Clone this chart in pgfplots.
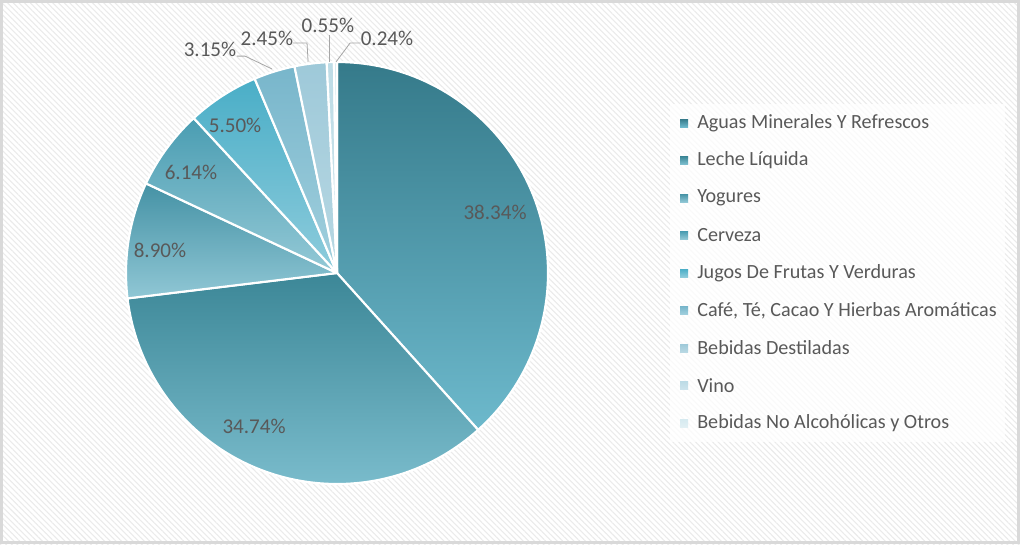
\documentclass[border=0pt]{standalone}
\usepackage{fontspec}
\setmainfont{Carlito}
\usepackage{pgfplots}
\pgfplotsset{compat=1.18}
\usepackage{pgfplotstable}
\usetikzlibrary{patterns.meta}
\definecolor{txt}{HTML}{595959}
\definecolor{lead}{HTML}{A6A6A6}
\definecolor{c1t}{HTML}{357A8A}\definecolor{c1b}{HTML}{6DB9CC}
\definecolor{c2t}{HTML}{3C8797}\definecolor{c2b}{HTML}{80C1D1}
\definecolor{c3t}{HTML}{4592A5}\definecolor{c3b}{HTML}{90C7D5}
\definecolor{c4t}{HTML}{4A9DB2}\definecolor{c4b}{HTML}{94C9D6}
\definecolor{c5t}{HTML}{4AAEC7}\definecolor{c5b}{HTML}{8ECCDC}
\definecolor{c6t}{HTML}{78B6CB}\definecolor{c6b}{HTML}{A2D0DE}
\definecolor{c7t}{HTML}{9EC9D9}\definecolor{c7b}{HTML}{B8D8E3}
\definecolor{c8t}{HTML}{BDDCE6}\definecolor{c8b}{HTML}{CDE4EC}
\definecolor{c9t}{HTML}{D6EAF0}\definecolor{c9b}{HTML}{E2F0F4}

\pgfplotstableread{
val   top bot
38.34 c1t c1b
34.74 c2t c2b
8.90  c3t c3b
6.14  c4t c4b
5.50  c5t c5b
3.15  c6t c6b
2.45  c7t c7b
0.55  c8t c8b
0.24  c9t c9b
}\data

\begin{document}
\begin{tikzpicture}[font=\fontsize{15.8}{19}\selectfont]
% background
\fill[white] (0,0) rectangle (765pt,-408pt);
\fill[pattern={Lines[angle=-45,distance=3pt,line width=0.8pt]}, pattern color=black!8] (0,0) rectangle (765pt,-408pt);
\begin{scope}[x=0.75pt,y=-0.75pt]
\draw[line width=2.25pt, color=black!15] (1.5,1.5) rectangle (1018.5,542.5);
\end{scope}

\begin{axis}[at={(252.75pt,-204.75pt)}, anchor=origin, scale only axis,
  width=316.5pt, height=316.5pt, xmin=-1, xmax=1, ymin=-1, ymax=1,
  hide axis, clip=false]
\def\cum{0}
\pgfplotsforeachungrouped \i in {0,...,8}{%
  \pgfplotstablegetelem{\i}{val}\of\data \let\v\pgfplotsretval
  \pgfplotstablegetelem{\i}{top}\of\data \let\ct\pgfplotsretval
  \pgfplotstablegetelem{\i}{bot}\of\data \let\cb\pgfplotsretval
  \pgfmathsetmacro\sa{90-3.6*\cum}%
  \pgfmathsetmacro\cum{\cum+\v}%
  \pgfmathsetmacro\ea{90-3.6*\cum}%
  \edef\cmd{\noexpand\path[top color=\ct, bottom color=\cb, draw=white, line width=1.6pt, line join=round]
    (axis cs:0,0) -- ++(\sa:158.25pt) arc[start angle=\sa, end angle=\ea, radius=158.25pt] -- cycle;}%
  \cmd
}
% leader lines
\draw[lead, line width=0.6pt] (axis cs:-0.474,1.028) -- (axis cs:-0.436,1.028) -- (axis cs:-0.308,0.967);
\draw[lead, line width=0.6pt] (axis cs:-0.209,1.090) -- (axis cs:-0.142,1.090) -- (axis cs:-0.137,1.0);
\draw[lead, line width=0.6pt] (axis cs:-0.038,1.128) -- (axis cs:-0.038,1.0);
\draw[lead, line width=0.6pt] (axis cs:0.112,1.090) -- (axis cs:0.062,1.090) -- (axis cs:-0.005,1.0);
% labels
\node[text=txt] at (axis cs:0.749,0.289) {38.34\%};
\node[text=txt] at (axis cs:-0.393,-0.725) {34.74\%};
\node[text=txt] at (axis cs:-0.839,0.109) {8.90\%};
\node[text=txt] at (axis cs:-0.692,0.479) {6.14\%};
\node[text=txt] at (axis cs:-0.483,0.701) {5.50\%};
\node[text=txt] at (axis cs:-0.602,1.062) {3.15\%};
\node[text=txt] at (axis cs:-0.332,1.114) {2.45\%};
\node[text=txt] at (axis cs:-0.043,1.175) {0.55\%};
\node[text=txt] at (axis cs:0.237,1.114) {0.24\%};
\end{axis}

% legend
\begin{scope}[x=0.75pt,y=-0.75pt]
\fill[white, fill opacity=0.75] (670,104) rectangle (1005,442);
\foreach \n [count=\k] in {{Aguas Minerales Y Refrescos},{Leche Líquida},{Yogures},{Cerveza},{Jugos De Frutas Y Verduras},{Café, Té, Cacao Y Hierbas Aromáticas},{Bebidas Destiladas},{Vino},{Bebidas No Alcohólicas y Otros}}{
  \pgfmathsetmacro\yy{123+37.5*(\k-1)}
  \path[top color=c\k t, bottom color=c\k b] (680,\yy-4) rectangle (688,\yy+4);
  \node[text=txt, anchor=west, inner sep=0pt, font=\fontsize{15.1}{18}\selectfont] at (697,\yy) {\n};
}
\end{scope}
\end{tikzpicture}
\end{document}
